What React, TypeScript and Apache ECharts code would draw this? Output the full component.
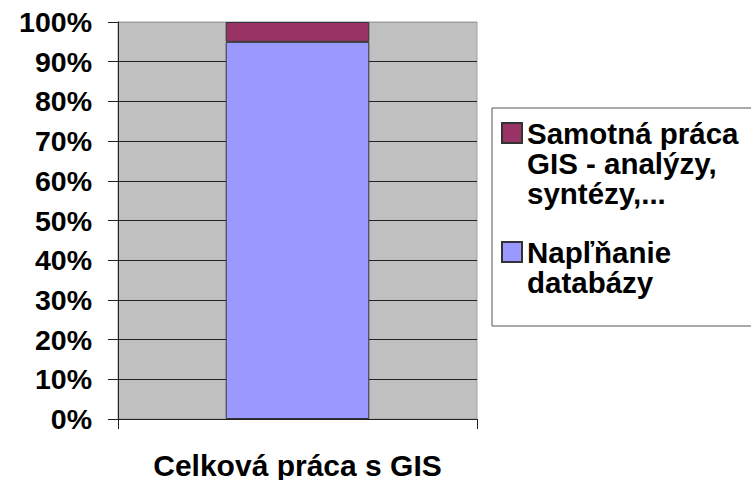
import React, { useEffect, useRef } from "react";
import * as echarts from "echarts";

const categories = ["Celková práca s GIS"];
const seriesNames = ["Samotná práca GIS - analýzy, syntézy,...", "Napľňanie databázy"];
const legendLabels = ["Samotná práca\nGIS - analýzy,\nsyntézy,...", "Napľňanie\ndatabázy"];
const analysisValues = [5];
const databaseValues = [95];
const yTicks = { min: 0, max: 100, interval: 10 };

const FONT = "'Liberation Sans', Arial, sans-serif";

export default function App() {
  const ref = useRef<HTMLDivElement>(null);
  useEffect(() => {
    if (!ref.current) return;
    document.body.style.margin = "0";
    const chart = echarts.init(ref.current, null, { renderer: "svg" });
    const splitColors: string[] = [];
    for (let v = yTicks.min; v <= yTicks.max; v += yTicks.interval) {
      splitColors.push(v === yTicks.max ? "#a0a0a0" : "#222222");
    }
    const labelMap: Record<string, string> = {};
    seriesNames.forEach((n, i) => (labelMap[n] = legendLabels[i]));
    chart.setOption({
      animation: false,
      textStyle: { fontFamily: FONT },
      grid: {
        left: 118,
        top: 22,
        right: 274,
        bottom: 59,
        show: true,
        backgroundColor: "#c0c0c0",
        borderColor: "#a0a0a0",
        borderWidth: 1,
      },
      legend: {
        orient: "vertical",
        left: 492,
        top: 108,
        padding: [9, 100, 13, 9],
        itemGap: 12,
        itemWidth: 20,
        itemHeight: 90,
        borderColor: "#555555",
        borderWidth: 1,
        selectedMode: false,
        formatter: (name: string) => labelMap[name] || name,
        textStyle: {
          fontFamily: FONT,
          fontSize: 29.5,
          fontWeight: "bold",
          color: "#000",
          lineHeight: 30,
        },
        data: [
          { name: seriesNames[0], icon: "path://M0,5H20V25H0Z M0,0 M0,90" },
          { name: seriesNames[1], icon: "path://M0,20H20V40H0Z M0,0 M0,90" },
        ],
      },
      xAxis: {
        type: "category",
        data: categories,
        boundaryGap: true,
        axisLine: { lineStyle: { color: "#222", width: 1 } },
        axisTick: { show: true, length: 10, alignWithLabel: false, lineStyle: { color: "#222" } },
        axisLabel: {
          margin: 31,
          fontFamily: FONT,
          fontSize: 30,
          fontWeight: "bold",
          color: "#000",
        },
      },
      yAxis: {
        type: "value",
        min: yTicks.min,
        max: yTicks.max,
        interval: yTicks.interval,
        axisLine: { show: true, lineStyle: { color: "#222", width: 1 } },
        axisTick: { show: true, length: 10, lineStyle: { color: "#222" } },
        splitLine: { show: true, lineStyle: { color: splitColors, width: 1 } },
        axisLabel: {
          formatter: "{value}%",
          margin: 26,
          fontFamily: FONT,
          fontSize: 28.5,
          fontWeight: "bold",
          color: "#000",
        },
      },
      series: [
        {
          name: seriesNames[1],
          type: "bar",
          stack: "total",
          data: databaseValues,
          barWidth: "40%",
          itemStyle: { color: "#9999ff", borderColor: "#333333", borderWidth: 1 },
        },
        {
          name: seriesNames[0],
          type: "bar",
          stack: "total",
          data: analysisValues,
          barWidth: "40%",
          itemStyle: { color: "#993366", borderColor: "#333333", borderWidth: 1 },
        },
      ],
    });
    return () => chart.dispose();
  }, []);
  return (
    <div
      ref={ref}
      style={{ position: "fixed", left: 0, top: 0, width: 751, height: 480, background: "#fff" }}
    />
  );
}
